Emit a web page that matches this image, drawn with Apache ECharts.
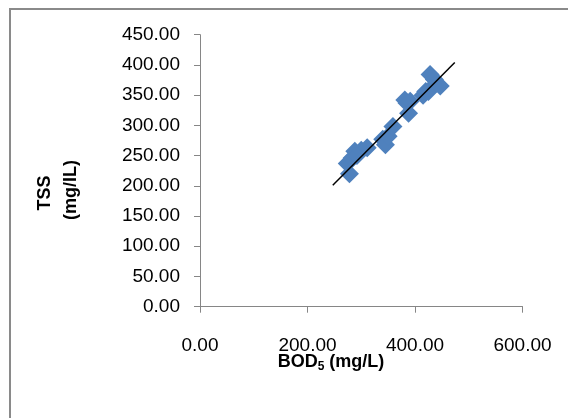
<!DOCTYPE html>
<html>
<head>
<meta charset="utf-8">
<script src="https://cdn.jsdelivr.net/npm/echarts@6/dist/echarts.min.js"></script>
<style>html,body{margin:0;padding:0;background:#fff}#c{width:568px;height:418px}</style>
</head>
<body>
<div id="c"></div>
<script>
const bodValues = [278, 274, 283, 288, 292, 300, 311, 340, 345, 350, 359, 381, 385, 391, 388, 415, 420, 425, 428, 436, 440, 447];
const tssValues = [220, 237, 246, 257, 250, 259, 263, 277, 268, 282, 298, 342, 337, 340, 320, 350, 356, 356, 384, 376, 370, 365];
const trendX = [247, 474];
const trendY = [201, 404];
const xTicks = [0, 200, 400, 600];
const yTicks = [0, 50, 100, 150, 200, 250, 300, 350, 400, 450];

const chart = echarts.init(document.getElementById('c'), null, {renderer: 'canvas'});
const font = 'Liberation Sans';
chart.setOption({
  backgroundColor: '#fff',
  animation: false,
  grid: {left: 200, right: 45.5, top: 34.7, bottom: 111.3, containLabel: false},
  xAxis: {
    type: 'value', min: xTicks[0], max: xTicks[xTicks.length - 1], interval: 200,
    axisLine: {show: true, lineStyle: {color: '#868686', width: 1}},
    axisTick: {show: true, length: 6, lineStyle: {color: '#868686'}},
    splitLine: {show: false},
    axisLabel: {margin: 30, color: '#000', fontFamily: font, fontSize: 19,
      formatter: v => v.toFixed(2)}
  },
  yAxis: {
    type: 'value', min: yTicks[0], max: yTicks[yTicks.length - 1], interval: 50,
    axisLine: {show: true, lineStyle: {color: '#868686', width: 1}},
    axisTick: {show: true, length: 6, lineStyle: {color: '#868686'}},
    splitLine: {show: false},
    axisLabel: {margin: 20, color: '#000', fontFamily: font, fontSize: 19,
      formatter: v => v.toFixed(2)}
  },
  graphic: [
    {type: 'rect', shape: {x: 10, y: 9, width: 700, height: 600},
      style: {fill: 'none', stroke: '#8a8a8a', lineWidth: 2}, silent: true, z: -1},
    {type: 'text', x: 331, y: 362,
      style: {text: '{b|BOD}{s|5}{b| (mg/L)}', align: 'center', verticalAlign: 'middle',
        rich: {
          b: {fontFamily: font, fontWeight: 'bold', fontSize: 18, fill: '#000', lineHeight: 22},
          s: {fontFamily: font, fontWeight: 'bold', fontSize: 12, fill: '#000', lineHeight: 22, padding: [10, 0, 0, 0]}
        }}},
    {type: 'text', x: 45, y: 193, rotation: Math.PI / 2,
      style: {text: 'TSS', align: 'center', verticalAlign: 'middle',
        fontFamily: font, fontWeight: 'bold', fontSize: 18, fill: '#000'}},
    {type: 'text', x: 71, y: 190, rotation: Math.PI / 2,
      style: {text: '(mg/IL)', align: 'center', verticalAlign: 'middle',
        fontFamily: font, fontWeight: 'bold', fontSize: 18, fill: '#000'}}
  ],
  series: [
    {
      type: 'scatter', symbol: 'diamond', symbolSize: 19,
      itemStyle: {color: '#4F81BD', opacity: 1},
      data: bodValues.map((x, i) => [x, tssValues[i]]), z: 2
    },
    {
      type: 'line', symbol: 'none', silent: true,
      lineStyle: {color: '#000', width: 1.5},
      data: trendX.map((x, i) => [x, trendY[i]]), z: 3
    }
  ]
});
</script>
</body>
</html>
